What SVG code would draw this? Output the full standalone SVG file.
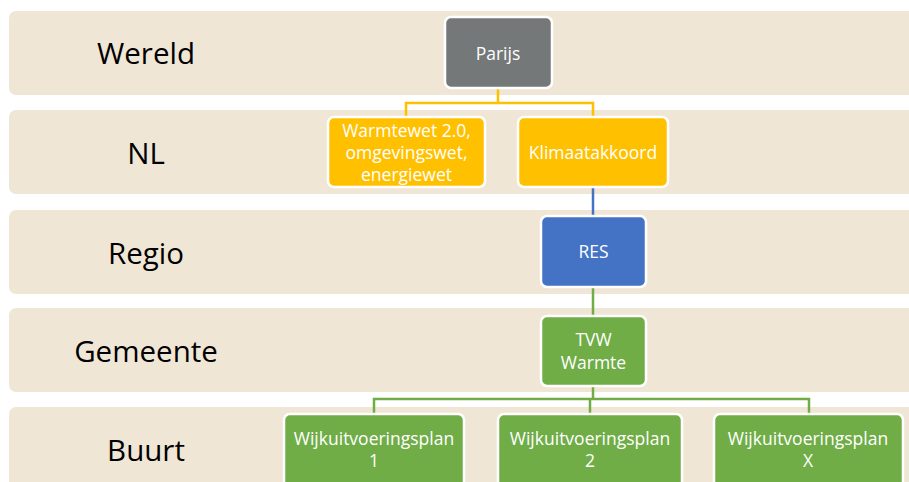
<svg xmlns="http://www.w3.org/2000/svg" width="909" height="482" viewBox="0 0 909 482">
<style>
.band{fill:#F0E6D6}
.lvl{font-family:"Open Sans","Noto Sans",sans-serif;font-size:29.5px;fill:#000;text-anchor:middle}
.box{stroke:#fff;stroke-width:2.5}
.t{font-family:"Open Sans","Noto Sans",sans-serif;font-size:17.5px;fill:#fff;text-anchor:middle}
.c{fill:none;stroke-width:2.5}
</style>
<rect width="909" height="482" fill="#fff"/>
<g id="bands">
<rect class="band" x="9" y="11" width="910" height="84" rx="7"/>
<rect class="band" x="9" y="110" width="910" height="84" rx="7"/>
<rect class="band" x="9" y="210" width="910" height="84" rx="7"/>
<rect class="band" x="9" y="308" width="910" height="84" rx="7"/>
<rect class="band" x="9" y="407" width="910" height="90" rx="7"/>
<text class="lvl" x="146" y="64">Wereld</text>
<text class="lvl" x="146" y="164">NL</text>
<text class="lvl" x="146" y="264">Regio</text>
<text class="lvl" x="146" y="362">Gemeente</text>
<text class="lvl" x="146" y="461">Buurt</text>
</g>
<g id="connectors">
<path class="c" stroke="#FFC000" d="M498 88V103M406 116V103H593V116"/>
<path class="c" stroke="#4472C4" d="M593 187V216"/>
<path class="c" stroke="#70AD47" d="M593 287V316M593 386V399M374 413V399H809V413M590 399V413"/>
</g>
<g id="parijs">
<rect class="box" x="445" y="17" width="107" height="71" rx="6" fill="#757878"/>
<text class="t" x="498" y="60">Parijs</text>
</g>
<g id="warmtewet">
<rect class="box" x="328" y="117" width="157" height="70" rx="6" fill="#FFC000"/>
<text class="t" x="406.5" y="137">Warmtewet 2.0,</text>
<text class="t" x="406.5" y="159">omgevingswet,</text>
<text class="t" x="406.5" y="181">energiewet</text>
</g>
<g id="klimaatakkoord">
<rect class="box" x="518" y="117" width="150" height="70" rx="6" fill="#FFC000"/>
<text class="t" x="593" y="159">Klimaatakkoord</text>
</g>
<g id="res">
<rect class="box" x="541" y="216" width="105" height="71" rx="6" fill="#4472C4"/>
<text class="t" x="593.5" y="258">RES</text>
</g>
<g id="tvw">
<rect class="box" x="541" y="316" width="105" height="70" rx="6" fill="#70AD47"/>
<text class="t" x="593.5" y="346">TVW</text>
<text class="t" x="593.5" y="369">Warmte</text>
</g>
<g id="wijk1">
<rect class="box" x="284" y="414" width="180" height="80" rx="6" fill="#70AD47"/>
<text class="t" x="374" y="445">Wijkuitvoeringsplan</text>
<text class="t" x="374" y="467">1</text>
</g>
<g id="wijk2">
<rect class="box" x="498" y="414" width="184" height="80" rx="6" fill="#70AD47"/>
<text class="t" x="590" y="445">Wijkuitvoeringsplan</text>
<text class="t" x="590" y="467">2</text>
</g>
<g id="wijkx">
<rect class="box" x="714" y="414" width="189" height="80" rx="6" fill="#70AD47"/>
<text class="t" x="808" y="445">Wijkuitvoeringsplan</text>
<text class="t" x="808" y="467">X</text>
</g>
</svg>
